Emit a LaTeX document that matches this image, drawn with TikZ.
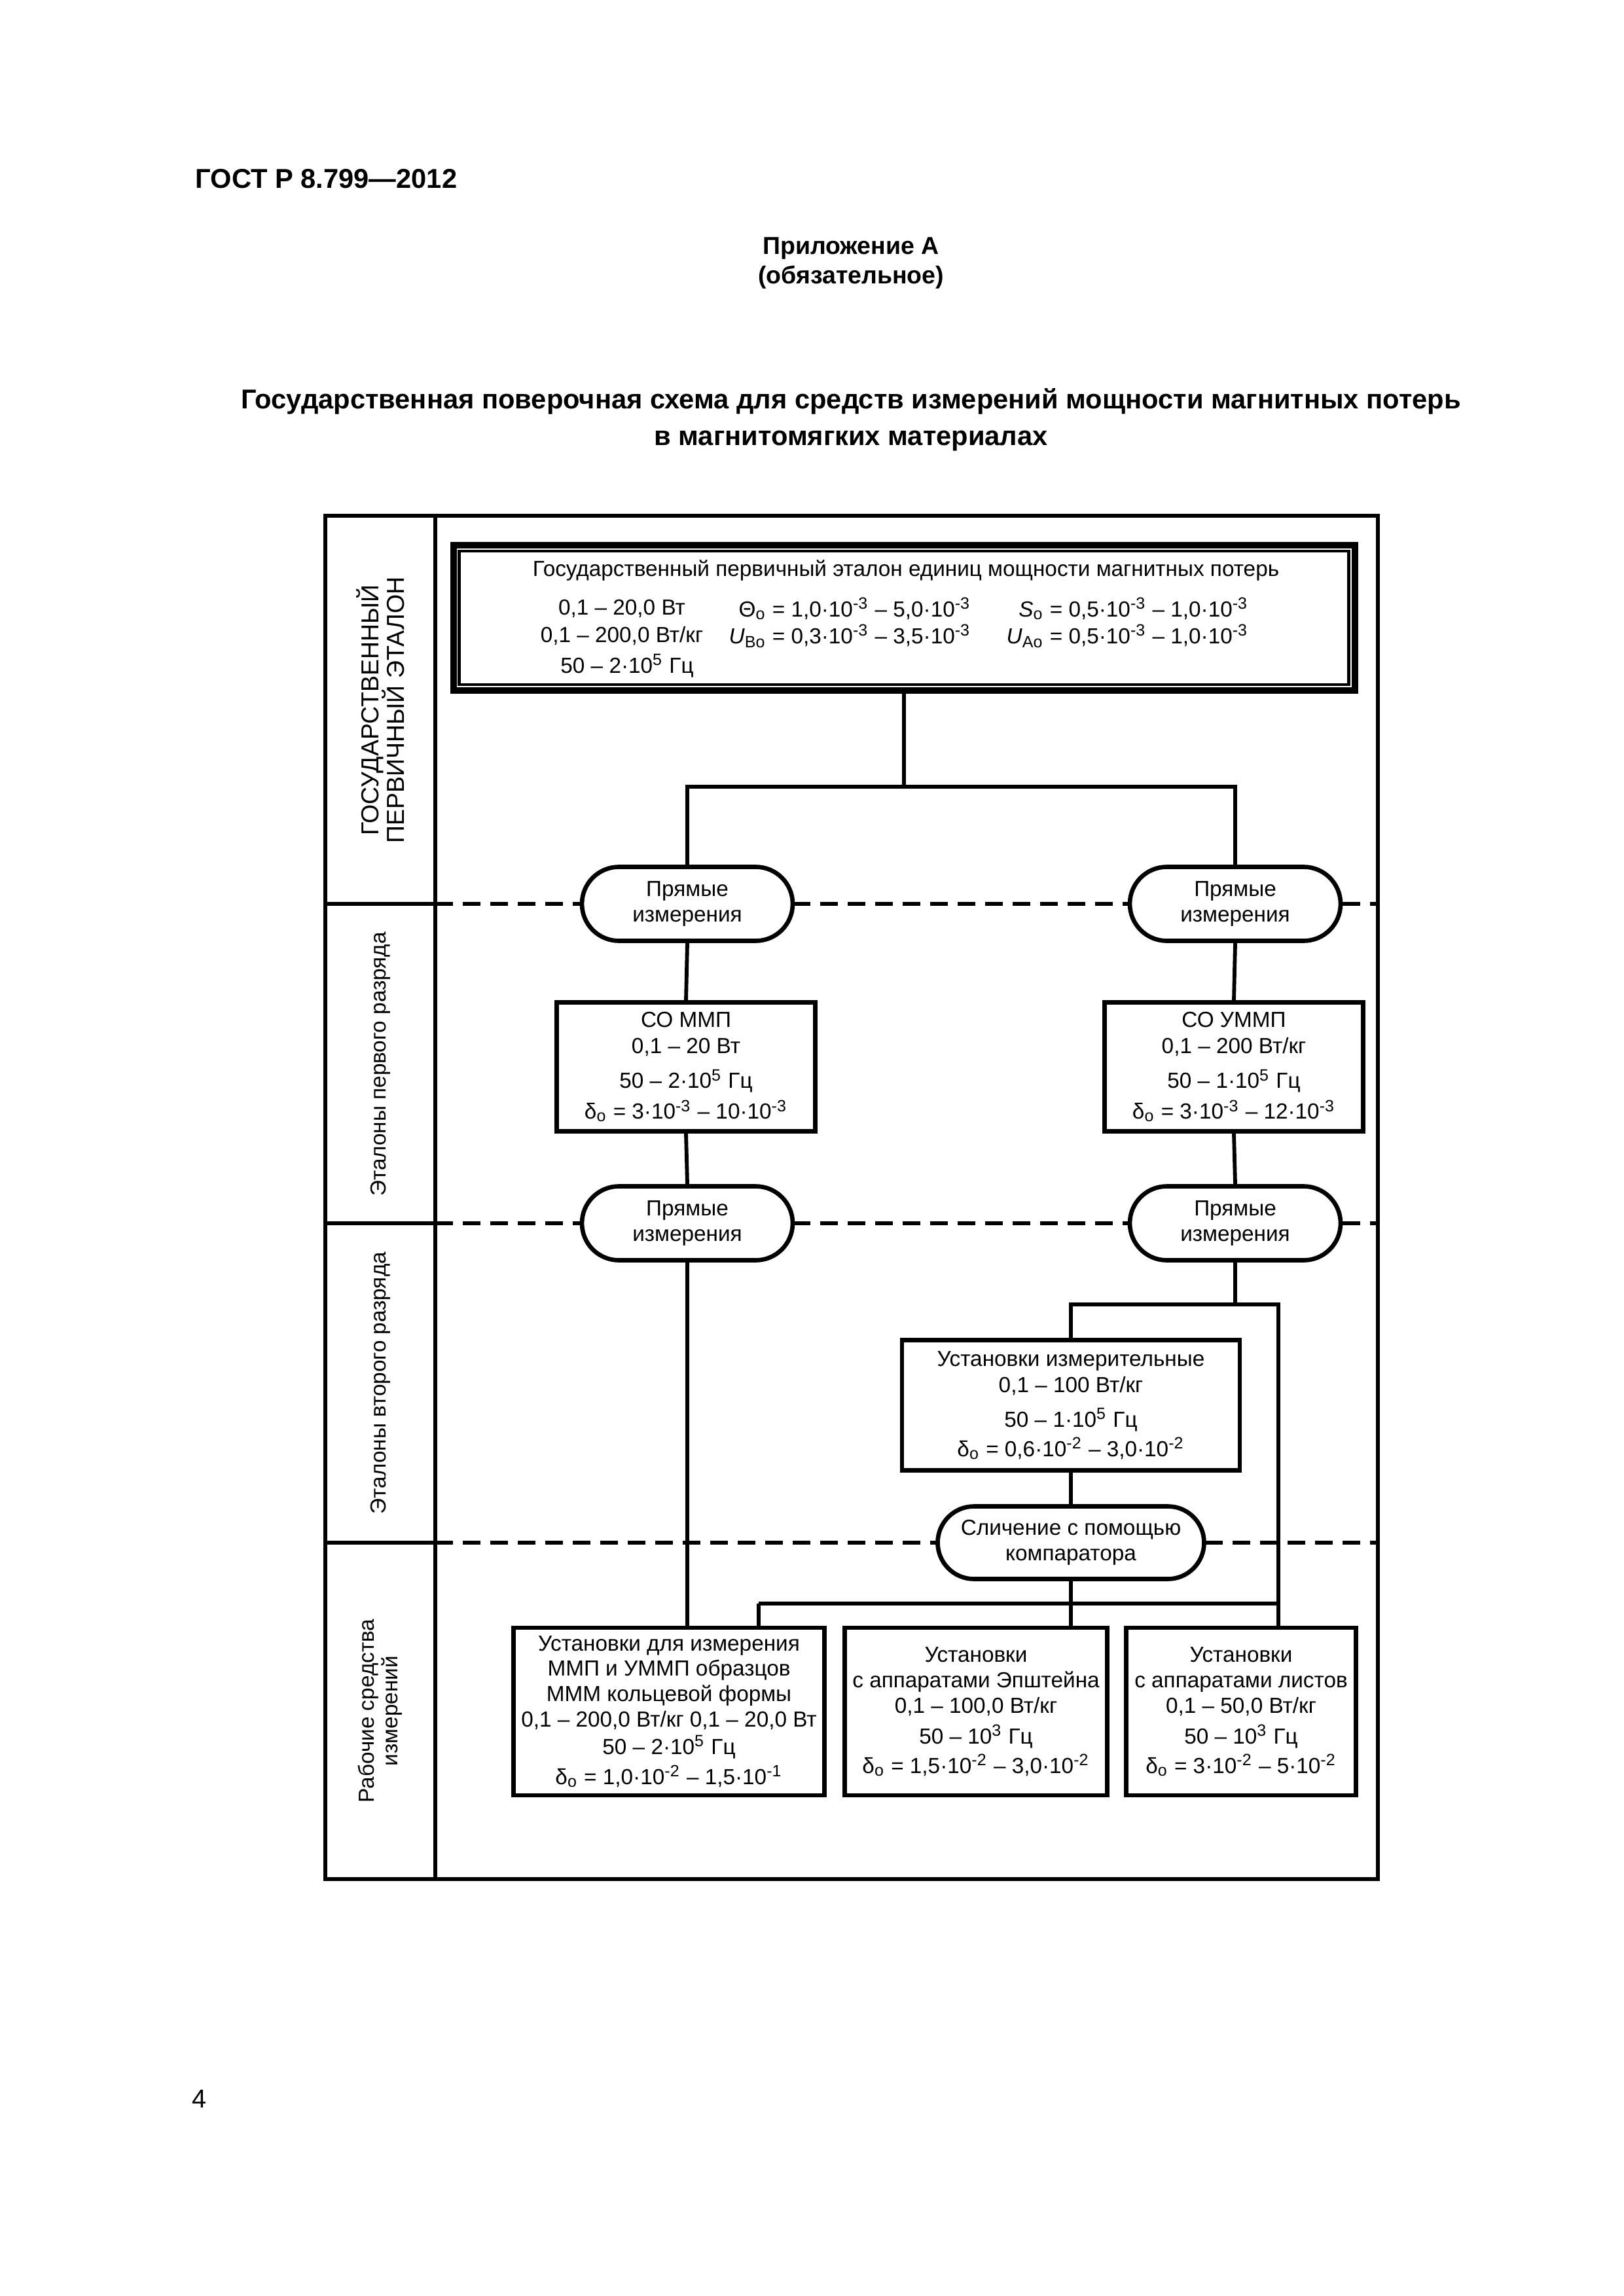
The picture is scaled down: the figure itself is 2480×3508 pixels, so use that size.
\documentclass[tikz,border=0pt]{standalone}
\usepackage{fontspec}
\setmainfont{Liberation Sans}
\usetikzlibrary{calc,shapes.misc}
\newlength\pxu
\setlength\pxu{0.2401pt}

\begin{document}
\setlength\lineskiplimit{-10pt}
\begin{tikzpicture}[x=0.2401pt,y=-0.2401pt,
    txt/.style={inner sep=0pt,align=center,font=\fontsize{8}{9.3}\selectfont},
    box/.style={txt,draw,line width=1.6pt,fill=white},
    oval/.style={txt,draw,line width=1.6pt,fill=white,rounded rectangle},
    side/.style={rotate=90,inner sep=0pt,align=center,font=\fontsize{8}{8.6}\selectfont},
    link/.style={line width=1.4pt},
    level/.style={line width=1.6pt,dash pattern=on 27\pxu off 15\pxu}]
    \useasboundingbox (0,0) rectangle (2480,3508);

    \node[anchor=west,inner sep=0pt,font=\fontsize{10}{12}\selectfont\bfseries] at (298,273) (gost) {ГОСТ Р 8.799—2012};
    \node[align=center,font=\fontsize{9}{10.8}\selectfont\bfseries] at (1300,402) (pril) {Приложение А\\(обязательное)};
    \node[align=center,font=\fontsize{10}{13.4}\selectfont\bfseries] at (1300,641) (title) {Государственная поверочная схема для средств измерений мощности магнитных потерь\\в магнитомягких материалах};
    \node[font=\fontsize{9.5}{11}\selectfont] at (304,3207) (page) {4};

    \draw[line width=1.6pt] (497,788) rectangle (2105,2871);
    \draw[line width=1.6pt] (665,788) -- (665,2871);
    \foreach \y in {1381,1869,2357} {
        \draw[line width=1.6pt] (497,\y) -- (665,\y);
        \draw[level] (665,\y) -- (2105,\y);
    }

    \node[side,font=\fontsize{9}{9.4}\selectfont] at (581,1085) (sideGos) {ГОСУДАРСТВЕННЫЙ\\ПЕРВИЧНЫЙ ЭТАЛОН};
    \node[side] at (581,1626) (sideFirst) {Эталоны первого разряда};
    \node[side] at (581,2113) (sideSecond) {Эталоны второго разряда};
    \node[side] at (581,2614) (sideWork) {Рабочие средства\\измерений};

    \node[box,minimum width=1377\pxu,minimum height=222\pxu,line width=2.4pt] at (1381,944) (etalon) {};
    \draw[line width=1.1pt] ($(etalon.north west)+(14,14)$) rectangle ($(etalon.south east)+(-14,-14)$);
    \node[txt] at (1384,872) (etTitle) {Государственный первичный эталон единиц мощности магнитных потерь};
    \node[txt] at (950,930) (etW) {0,1 – 20,0 Вт};
    \node[txt,anchor=east] at (1484,930) (etTheta) {Θ\textsubscript{о} = 1,0·10\textsuperscript{-3} – 5,0·10\textsuperscript{-3}};
    \node[txt,anchor=east] at (1908,930) (etS) {\textit{S}\textsubscript{о} = 0,5·10\textsuperscript{-3} – 1,0·10\textsuperscript{-3}};
    \node[txt] at (950,972) (etWkg) {0,1 – 200,0 Вт/кг};
    \node[txt,anchor=east] at (1484,972) (etUB) {\textit{U}\textsubscript{Во} = 0,3·10\textsuperscript{-3} – 3,5·10\textsuperscript{-3}};
    \node[txt,anchor=east] at (1908,972) (etUA) {\textit{U}\textsubscript{Ао} = 0,5·10\textsuperscript{-3} – 1,0·10\textsuperscript{-3}};
    \node[txt] at (958,1017) (etF) {50 – 2·10\textsuperscript{5} Гц};

    \node[oval,minimum width=322\pxu,minimum height=113\pxu] at (1050,1381) (pr1l) {Прямые\\измерения};
    \node[oval,minimum width=322\pxu,minimum height=113\pxu] at (1887,1381) (pr1r) {Прямые\\измерения};
    \node[box,minimum width=395\pxu,minimum height=197\pxu] at (1048,1630) (soMMP) {СО ММП\\[0.5pt]0,1 – 20 Вт\\[3.4pt]50 – 2·10\textsuperscript{5} Гц\\[2pt]δ\textsubscript{о} = 3·10\textsuperscript{-3} – 10·10\textsuperscript{-3}};
    \node[box,minimum width=395\pxu,minimum height=197\pxu] at (1885,1630) (soUMMP) {СО УММП\\[0.5pt]0,1 – 200 Вт/кг\\[3.4pt]50 – 1·10\textsuperscript{5} Гц\\[2pt]δ\textsubscript{о} = 3·10\textsuperscript{-3} – 12·10\textsuperscript{-3}};
    \node[oval,minimum width=322\pxu,minimum height=113\pxu] at (1050,1869) (pr2l) {Прямые\\измерения};
    \node[oval,minimum width=322\pxu,minimum height=113\pxu] at (1887,1869) (pr2r) {Прямые\\измерения};
    \node[box,minimum width=516\pxu,minimum height=199\pxu] at (1636,2147) (ustIzm) {Установки измерительные\\[0.3pt]0,1 – 100 Вт/кг\\[3.4pt]50 – 1·10\textsuperscript{5} Гц\\[1.5pt]δ\textsubscript{о} = 0,6·10\textsuperscript{-2} – 3,0·10\textsuperscript{-2}};
    \node[oval,minimum width=407\pxu,minimum height=111\pxu] at (1636,2357) (komp) {Сличение с помощью\\компаратора};
    \node[box,minimum width=475\pxu,minimum height=256\pxu] at (1022,2615) (ustKolc) {Установки для измерения\\ММП и УММП образцов\\МММ кольцевой формы\\0,1 – 200,0 Вт/кг 0,1 – 20,0 Вт\\[0.8pt]50 – 2·10\textsuperscript{5} Гц\\[1.7pt]δ\textsubscript{о} = 1,0·10\textsuperscript{-2} – 1,5·10\textsuperscript{-1}};
    \node[box,minimum width=401\pxu,minimum height=256\pxu] at (1491,2615) (ustEpst) {Установки\\с аппаратами Эпштейна\\0,1 – 100,0 Вт/кг\\[2pt]50 – 10\textsuperscript{3} Гц\\[1.5pt]δ\textsubscript{о} = 1,5·10\textsuperscript{-2} – 3,0·10\textsuperscript{-2}};
    \node[box,minimum width=351\pxu,minimum height=256\pxu] at (1896,2615) (ustList) {Установки\\с аппаратами листов\\0,1 – 50,0 Вт/кг\\[2pt]50 – 10\textsuperscript{3} Гц\\[1.5pt]δ\textsubscript{о} = 3·10\textsuperscript{-2} – 5·10\textsuperscript{-2}};

    \coordinate (split) at (1381,1202);
    \coordinate (splitR) at (1887,1993);
    \coordinate (rightBus) at (1953,1993);
    \coordinate (busLow) at (1159,2450);

    \draw[link] (etalon.south) -- (split);
    \draw[link] (split) -| (pr1l.north);
    \draw[link] (split) -| (pr1r.north);
    \draw[link] (pr1l.south) -- (soMMP.north);
    \draw[link] (soMMP.south) -- (pr2l.north);
    \draw[link] (pr2l.south) -- (pr2l.south |- ustKolc.north);
    \draw[link] (pr1r.south) -- (soUMMP.north);
    \draw[link] (soUMMP.south) -- (pr2r.north);
    \draw[link] (pr2r.south) -- (splitR);
    \draw[link] (splitR) -| (ustIzm.north);
    \draw[link] (splitR) -- (rightBus) -- (rightBus |- ustList.north);
    \draw[link] (ustIzm.south) -- (komp.north);
    \draw[link] (komp.south) -- (komp.south |- ustEpst.north);
    \draw[link] (busLow) -- (busLow -| rightBus);
    \draw[link] (busLow) -- (busLow |- ustKolc.north);
\end{tikzpicture}
\end{document}
